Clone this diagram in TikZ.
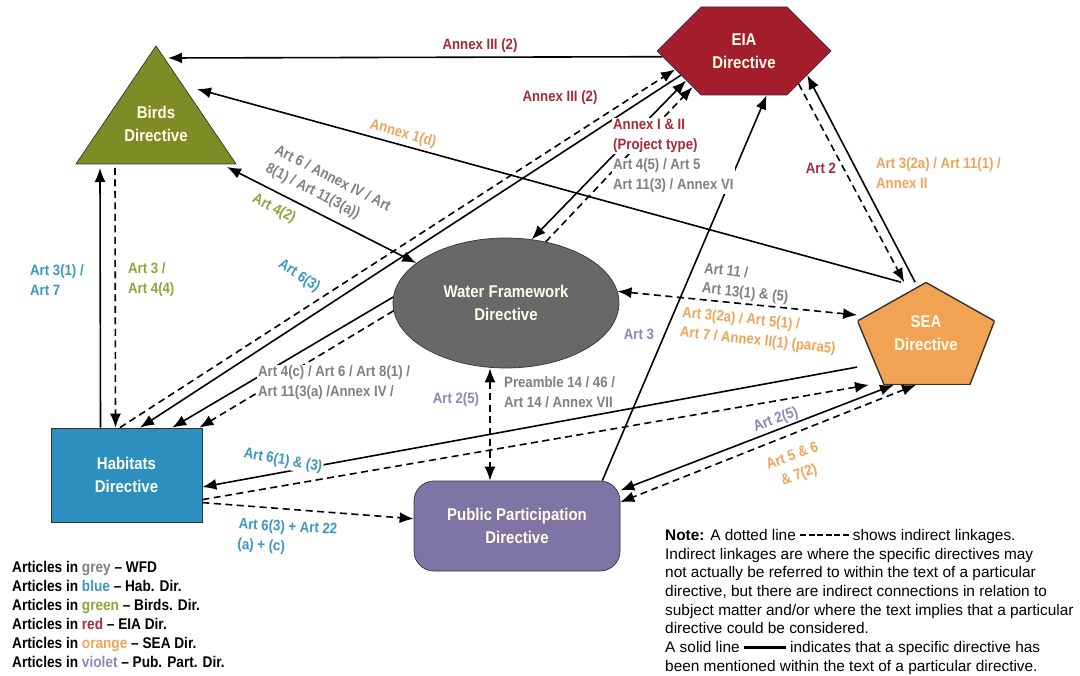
\documentclass[tikz,border=0pt]{standalone}
\usepackage{fontspec}
\setmainfont{Liberation Sans}[FakeStretch=0.88]
\newfontfamily\notefont{Liberation Sans}
\usepackage{tikz}
\usetikzlibrary{shapes.geometric,shapes.symbols,arrows.meta}

\definecolor{birdsgreen}{HTML}{7E8C25}
\definecolor{eiared}{HTML}{A41D2C}
\definecolor{wfdgrey}{HTML}{686868}
\definecolor{seaorange}{HTML}{F1A253}
\definecolor{habblue}{HTML}{2C8FC0}
\definecolor{ppviolet}{HTML}{7E75A5}
\definecolor{lgrey}{HTML}{808080}
\definecolor{lblue}{HTML}{3A97C4}
\definecolor{lgreen}{HTML}{93A23A}
\definecolor{lred}{HTML}{A52A3A}
\definecolor{lorange}{HTML}{F0A45A}
\definecolor{lviolet}{HTML}{8E86B8}

\newcommand{\dashkey}{\rule[4pt]{6pt}{2.5pt}\hspace{2.5pt}\rule[4pt]{6pt}{2.5pt}\hspace{2.5pt}\rule[4pt]{6pt}{2.5pt}\hspace{2.5pt}\rule[4pt]{6pt}{2.5pt}\hspace{2.5pt}\rule[4pt]{6pt}{2.5pt}\hspace{2.5pt}\rule[4pt]{6pt}{2.5pt}}
\newcommand{\solidkey}{\rule[4pt]{42pt}{3pt}}

\begin{document}
\begin{tikzpicture}[x=1pt, y=-1pt,
  main/.style = {draw=black!80, line width=0.7pt, text=white!92!yellow, align=center, inner sep=0pt,
    font=\fontsize{17}{23}\selectfont\bfseries},
  link/.style = {line width=1.6pt, -{Latex[length=14pt,width=11pt]}},
  both/.style = {line width=1.6pt, {Latex[length=14pt,width=11pt]}-{Latex[length=14pt,width=11pt]}},
  ind/.style = {dash pattern=on 7pt off 4.5pt},
  art/.style = {align=left, fill=white, inner sep=1pt, font=\fontsize{15}{20}\selectfont\bfseries}]
\useasboundingbox (0,0) rectangle (1080,676);

\node[main, isosceles triangle, shape border rotate=90, isosceles triangle stretches,
  minimum width=160pt, minimum height=118pt, fill=birdsgreen, anchor=apex] (bd) at (156,45) {};
\node[main, draw=none] (bdname) at (156,124) {Birds\\Directive};
\node[main, signal, signal to=east and west, signal pointer angle=90,
  minimum width=174pt, minimum height=88pt, fill=eiared] (eia) at (744,51) {EIA\\Directive};
\node[main, ellipse, minimum width=226pt, minimum height=130pt, fill=wfdgrey] (wfd) at (506,303) {Water Framework\\Directive};
\node[main, draw=none, minimum width=137pt, minimum height=102pt,
  path picture={\filldraw[fill=seaorange, draw=black!80, line width=1.4pt] (path picture bounding box.north)
    -- ([shift={(0,-12.5)}]path picture bounding box.east) -- ([shift={(44,0)}]path picture bounding box.south)
    -- ([shift={(-42,0)}]path picture bounding box.south) -- ([shift={(0,-12.5)}]path picture bounding box.west) -- cycle;}]
  (sea) at (926,333.5) {SEA\\Directive};
\node[main, minimum width=151pt, minimum height=94pt, fill=habblue] (hd) at (126.5,475) {Habitats\\Directive};
\node[main, rounded corners=20pt, minimum width=206pt, minimum height=90pt, fill=ppviolet] (ppd) at (517,526) {Public Participation\\Directive};

\draw[link] (eia.184) -- ([shift={(12,13)}]bd.apex);
\draw[link] (sea.116) -- ([shift={(41,44)}]bd.apex);
\draw[both] ([shift={(71,122)}]bd.apex) -- (wfd.156);
\draw[link] ([xshift=-26pt]hd.north) -- ([shift={(-56,123)}]bd.apex);
\draw[link, ind] ([shift={(-41,123)}]bd.apex) -- ([xshift=-11pt]hd.north);
\draw[link, ind] (hd.98) -- (eia.195);
\draw[link] (eia.201) -- (hd.74);
\draw[link] (wfd.177) -- (hd.46);
\draw[link, ind] (wfd.184) -- (hd.33);
\draw[both] (wfd.68) -- (eia.207);
\draw[link, ind] (wfd.57) -- (eia.215);
\draw[link] (ppd.28) -- (eia.297);
\draw[link, ind] (eia.329) -- (sea.113);
\draw[link] (sea.102) -- (eia.339);
\draw[both, ind] (sea.165) -- (wfd.6);
\draw[link] (sea.206) -- (hd.351);
\draw[link, ind] (hd.342) -- (sea.222);
\draw[both] (sea.238) -- (ppd.19);
\draw[both, ind] (sea.259) -- (ppd.13);
\draw[both, ind] ([xshift=-16pt]wfd.south) -- ([xshift=-16pt]wfd.south |- ppd.north);
\draw[link, ind] (hd.340) -- (ppd.176);

\node[art, text=lred] (a1) at (480,46) {Annex III (2)};
\node[art, text=lorange, rotate=-16] (a2) at (403,134) {Annex 1(d)};
\node[art, text=lgrey, rotate=-27] (a3) at (328,188) {Art 6 / Annex IV / Art\\8(1) / Art 11(3(a))};
\node[art, text=lgreen, rotate=-27] (a4) at (274,209) {Art 4(2)};
\node[art, text=lblue, anchor=west] (a5) at (29,280) {Art 3(1) /\\Art 7};
\node[art, text=lgreen, anchor=west] (a6) at (127,280) {Art 3 /\\Art 4(4)};
\node[art, text=lblue, rotate=-33] (a7) at (299,276) {Art 6(3)};
\node[art, text=lred] (a8) at (560,98) {Annex III (2)};
\node[art, text=lred, anchor=west] (a9) at (612,136) {Annex I \& II\\(Project type)};
\node[art, text=lgrey, anchor=west] (a10) at (612,176) {Art 4(5) / Art 5\\Art 11(3) / Annex VI};
\node[art, text=lred] (a11) at (821,168) {Art 2};
\node[art, text=lorange, anchor=west] (a12) at (875,173) {Art 3(2a) / Art 11(1) /\\Annex II};
\node[art, text=lgrey, anchor=west] (a13) at (257,383) {Art 4(c) / Art 6 / Art 8(1) /\\Art 11(3(a) /Annex IV /};
\node[art, text=lgrey, anchor=west, rotate=-6] (a14) at (702,279) {Art 11 /\\Art 13(1) \& (5)};
\node[art, text=lorange, anchor=west, rotate=-6] (a15) at (680,323) {Art 3(2a) / Art 5(1) /\\Art 7 / Annex II(1) (para5)};
\node[art, text=lviolet] (a16) at (639,334) {Art 3};
\node[art, text=lviolet] (a17) at (456,400) {Art 2(5)};
\node[art, text=lgrey, anchor=west] (a18) at (503,392) {Preamble 14 / 46 /\\Art 14 / Annex VII};
\node[art, text=lblue, rotate=-10] (a19) at (283,461) {Art 6(1) \& (3)};
\node[art, text=lblue, anchor=west, rotate=-3] (a20) at (237,535) {Art 6(3) + Art 22\\(a) + (c)};
\node[art, text=lviolet, rotate=20] (a21) at (776,420) {Art 2(5)};
\node[art, text=lorange, align=center, rotate=20] (a22) at (796,466) {Art 5 \& 6\\\& 7(2)};

\node[art, anchor=north west, font=\fontsize{15.5}{19}\selectfont\bfseries] (key) at (11,560) {Articles in \textcolor{lgrey}{grey} -- WFD\\
Articles in \textcolor{lblue}{blue} -- Hab. Dir.\\
Articles in \textcolor{lgreen}{green} -- Birds. Dir.\\
Articles in \textcolor{lred}{red} -- EIA Dir.\\
Articles in \textcolor{lorange}{orange} -- SEA Dir.\\
Articles in \textcolor{lviolet}{violet} -- Pub. Part. Dir.};
\node[align=left, inner sep=0pt, anchor=north west, font=\notefont\fontsize{15.4}{18.7}\selectfont] (note) at (665,529) {\textbf{Note:} A dotted line \dashkey{} shows indirect linkages.\\
Indirect linkages are where the specific directives may\\
not actually be referred to within the text of a particular\\
directive, but there are indirect connections in relation to\\
subject matter and/or where the text implies that a particular\\
directive could be considered.\\
A solid line \solidkey{} indicates that a specific directive has\\
been mentioned within the text of a particular directive.};
\end{tikzpicture}
\end{document}
